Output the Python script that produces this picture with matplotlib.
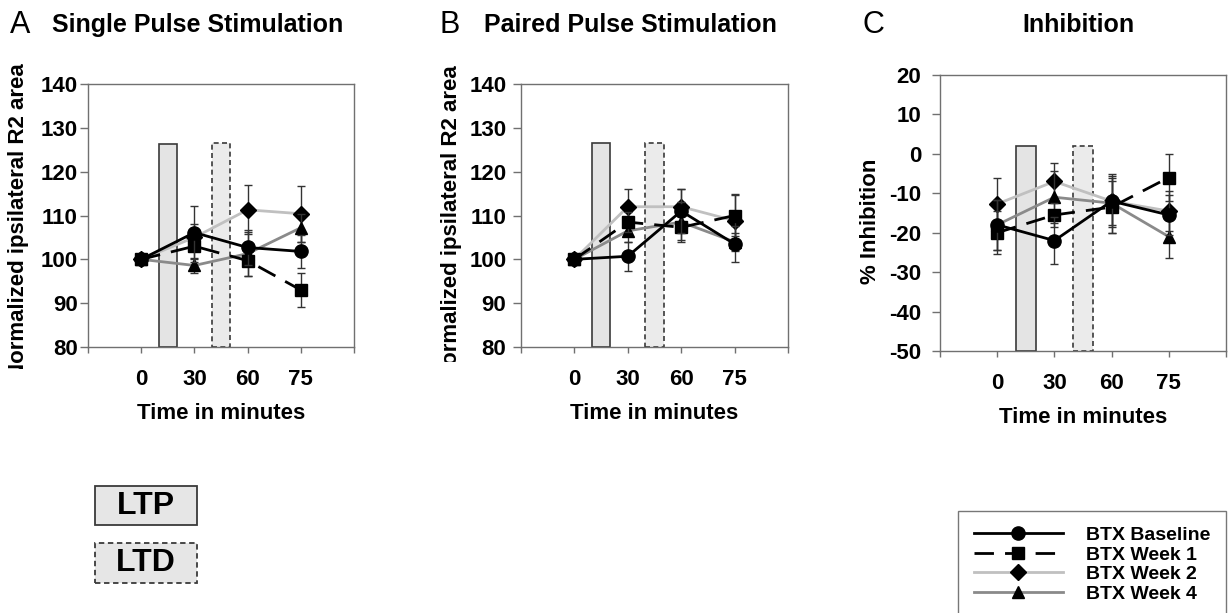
import numpy as np
import matplotlib
matplotlib.use("Agg")
import matplotlib.pyplot as plt
from matplotlib.patches import Rectangle
from matplotlib.transforms import Bbox, TransformedBbox

plt.rcParams['font.family'] = ['Liberation Sans', 'DejaVu Sans']
plt.rcParams['axes.unicode_minus'] = False

# ---------------- data ----------------
time_labels = ['0', '30', '60', '75']
series_names = ['BTX Baseline', 'BTX Week 1', 'BTX Week 2', 'BTX Week 4']

# Panel A: Single pulse stimulation (normalized R2 area)
A_baseline = [100, 106.1, 102.7, 101.8]
A_week1 = [100, 103.0, 99.7, 93.0]
A_week2 = [100, 105.0, 111.3, 110.4]
A_week4 = [100, 98.6, 101.3, 107.2]
A_baseline_err = [0, 6.0, 4.0, 3.8]
A_week1_err = [0, 3.7, 3.5, 3.8]
A_week2_err = [0, 3.0, 5.6, 6.4]
A_week4_err = [0, 1.8, 5.0, 3.2]

# Panel B: Paired pulse stimulation
B_baseline = [100, 100.7, 111.0, 103.5]
B_week1 = [100, 108.5, 107.3, 110.0]
B_week2 = [100, 112.0, 112.0, 108.8]
B_week4 = [100, 106.5, 108.5, 104.0]
B_baseline_err = [0, 3.3, 5.0, 4.0]
B_week1_err = [0, 2.2, 3.0, 4.7]
B_week2_err = [0, 4.0, 4.0, 6.0]
B_week4_err = [0, 2.5, 4.5, 2.0]

# Panel C: % Inhibition
C_baseline = [-18.0, -22.0, -12.0, -15.5]
C_week1 = [-20.0, -15.5, -13.5, -6.0]
C_week2 = [-12.7, -7.0, -12.0, -14.5]
C_week4 = [-18.0, -11.0, -12.5, -21.0]
C_baseline_err = [6.3, 6.0, 6.5, 5.0]
C_week1_err = [5.5, 3.0, 6.5, 6.0]
C_week2_err = [6.5, 4.8, 6.0, 5.0]
C_week4_err = [6.3, 6.6, 7.5, 5.3]

# stimulation windows (LTP between 0 and 30, LTD between 30 and 60), bar tops
stim_names = ['LTP', 'LTD']
A_stim_top = [126.3, 126.6]
B_stim_top = [126.5, 126.5]
C_stim_top = [2.0, 2.0]

# ---------------- styles ----------------
styles = [
    dict(color='black', ls='-', marker='o', ms=9.5, lw=2.0, z=6),
    dict(color='black', ls=(0, (7, 4)), marker='s', ms=8, lw=2.0, z=5),
    dict(color='#c0c0c0', ls='-', marker='D', ms=8.5, lw=2.0, z=3),
    dict(color='#8a8a8a', ls='-', marker='^', ms=9, lw=2.0, z=4),
]

W, H = 1231, 613
fig = plt.figure(figsize=(W / 100, H / 100), dpi=100)


def axrect(l, r, t, b):
    return [l / W, 1 - b / H, (r - l) / W, (b - t) / H]


axA = fig.add_axes(axrect(88, 354, 84, 347))
axB = fig.add_axes(axrect(521, 788, 84, 347))
axC = fig.add_axes(axrect(940, 1226, 75, 351))

panels = [
    (axA, [A_baseline, A_week1, A_week2, A_week4],
     [A_baseline_err, A_week1_err, A_week2_err, A_week4_err], A_stim_top, (80, 140), 1.5),
    (axB, [B_baseline, B_week1, B_week2, B_week4],
     [B_baseline_err, B_week1_err, B_week2_err, B_week4_err], B_stim_top, (80, 140), 4.5),
    (axC, [C_baseline, C_week1, C_week2, C_week4],
     [C_baseline_err, C_week1_err, C_week2_err, C_week4_err], C_stim_top, (-50, 20), 7.5),
]

xpos = np.arange(1, len(time_labels) + 1)
stim_x = xpos[:-2] + 0.5
handles = []
for ax, vals, errs, stim_top, ylim, ypad in panels:
    lo, hi = ylim
    # stimulation bars
    for i, name in enumerate(stim_names):
        ax.bar(stim_x[i], stim_top[i] - lo, bottom=lo, width=0.34,
               color='#e4e4e4' if name == 'LTP' else '#ebebeb',
               edgecolor='#3a3a3a', linewidth=1.2,
               linestyle='-' if name == 'LTP' else (0, (3, 2)), zorder=1)
    hs = []
    for v, e, st, nm in zip(vals, errs, styles, series_names):
        ax.errorbar(xpos, v, yerr=e, fmt='none', ecolor='#333333',
                    elinewidth=1.0, capsize=3, capthick=1.0, zorder=st['z'] - 0.5)
        ln, = ax.plot(xpos, v, color=st['color'], linestyle=st['ls'], lw=st['lw'],
                      marker=st['marker'], markersize=st['ms'], markerfacecolor='black',
                      markeredgecolor='black', zorder=st['z'], label=nm)
        hs.append(ln)
    handles = hs
    ax.set_xlim(0, len(time_labels) + 1)
    ax.set_xticks(np.arange(0, len(time_labels) + 2))
    ax.set_xticklabels([''] + time_labels + [''])
    ax.set_ylim(lo, hi)
    ax.set_yticks(np.arange(lo, hi + 1, 10))
    for s in ax.spines.values():
        s.set_color('#707070')
        s.set_linewidth(1.0)
    ax.tick_params(axis='y', direction='out', length=6, width=1, color='#707070',
                   labelsize=16, pad=ypad)
    ax.tick_params(axis='x', direction='out', length=4.5, width=1, color='#707070',
                   labelsize=16, pad=11)
    for lab in ax.get_xticklabels() + ax.get_yticklabels():
        lab.set_fontweight('bold')
    ax.set_xlabel('Time in minutes', fontsize=16, fontweight='bold', labelpad=10)

# y labels (partly cut at the bottom as in the original)
clipA = TransformedBbox(Bbox([[0, 1 - 369 / H], [1, 1]]), fig.transFigure)
clipB = TransformedBbox(Bbox([[0, 1 - 362 / H], [1, 1]]), fig.transFigure)
tA = fig.text(19 / W, 1 - 63 / H, 'Normalized ipsilateral R2 area', rotation=90,
              ha='center', va='top', fontsize=16, fontweight='bold')
tA.set_clip_box(clipA)
tA.set_clip_on(True)
tB = fig.text(452 / W, 1 - 65 / H, 'Normalized ipsilateral R2 area', rotation=90,
              ha='center', va='top', fontsize=16, fontweight='bold')
tB.set_clip_box(clipB)
tB.set_clip_on(True)
fig.text(871 / W, 1 - 221 / H, '% Inhibition', rotation=90, ha='center', va='center',
         fontsize=16, fontweight='bold')

# panel titles
fig.text(10 / W, 1 - 25 / H, 'A', fontsize=22, ha='left', va='center')
fig.text(52 / W, 1 - 25 / H, 'Single Pulse Stimulation', fontsize=18, fontweight='bold',
         ha='left', va='center')
fig.text(440 / W, 1 - 25 / H, 'B', fontsize=22, ha='left', va='center')
fig.text(484 / W, 1 - 25 / H, 'Paired Pulse Stimulation', fontsize=18, fontweight='bold',
         ha='left', va='center')
fig.text(862 / W, 1 - 25 / H, 'C', fontsize=22, ha='left', va='center')
fig.text(1078 / W, 1 - 25 / H, 'Inhibition', fontsize=18, fontweight='bold',
         ha='center', va='center')

# LTP / LTD key boxes
for name, top, bot in [('LTP', 486, 525), ('LTD', 543, 583)]:
    r = Rectangle((95 / W, 1 - bot / H), 102 / W, (bot - top) / H,
                  transform=fig.transFigure, facecolor='#e6e6e6', edgecolor='#3a3a3a',
                  linewidth=1.3, linestyle='-' if name == 'LTP' else (0, (3, 2)))
    fig.add_artist(r)
    fig.text(146 / W, 1 - (top + bot) / 2 / H, name, fontsize=23, fontweight='bold',
             ha='center', va='center')

# legend
leg = fig.legend(handles, series_names, loc='upper left',
                 bbox_to_anchor=(958 / W, 1 - 511 / H), borderaxespad=0,
                 handlelength=4.6, handletextpad=1.2, borderpad=0.8,
                 labelspacing=0.1, numpoints=1, fancybox=False, frameon=True,
                 prop={'weight': 'bold', 'size': 14})
leg.get_frame().set_edgecolor('#555555')
leg.get_frame().set_linewidth(1.0)

fig.savefig('out.png', dpi=100)
